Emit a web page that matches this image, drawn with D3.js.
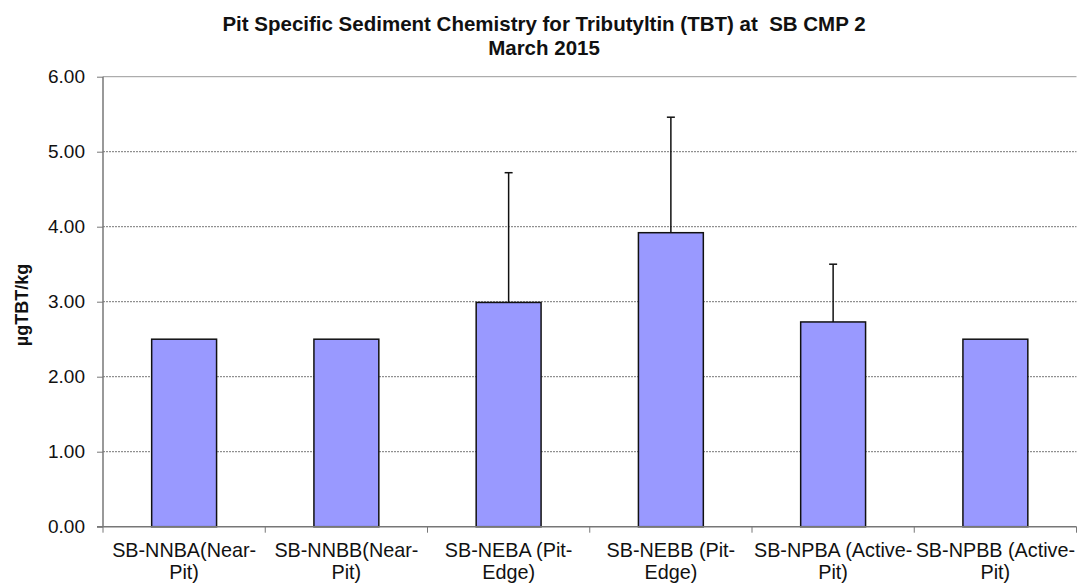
<!DOCTYPE html>
<html><head><meta charset="utf-8">
<script src="https://cdn.jsdelivr.net/npm/d3@7"></script>
<style>body{margin:0;background:#fff}svg{display:block}text{font-family:"Liberation Sans",Arial,sans-serif}</style>
</head><body><svg id="c" width="1077" height="583"></svg>
<script>
const categories = [["SB-NNBA(Near-","Pit)"],["SB-NNBB(Near-","Pit)"],["SB-NEBA (Pit-","Edge)"],["SB-NEBB (Pit-","Edge)"],["SB-NPBA (Active-","Pit)"],["SB-NPBB (Active-","Pit)"]];
const values = [2.50, 2.50, 2.99, 3.92, 2.73, 2.50];
const errorTops = [null, null, 4.72, 5.46, 3.50, null];
const yTicks = [0,1,2,3,4,5,6];
const titleLines = ["Pit Specific Sediment Chemistry for Tributyltin (TBT) at  SB CMP 2","March 2015"];
const yLabel = "µgTBT/kg";

const svg = d3.select("#c");
const L=103, R=1076.5, T=76.7, B=526.7;
const x = d3.scaleBand().domain(d3.range(categories.length)).range([L,R]).paddingInner(0.6).paddingOuter(0.3);
const y = d3.scaleLinear().domain([0,6]).range([B,T]);

// gridlines
svg.append("g").selectAll("line").data(yTicks.filter(d=>d>0)).join("line")
  .attr("x1",L).attr("x2",R).attr("y1",d=>y(d)).attr("y2",d=>y(d))
  .attr("stroke", d=>d===6?"#999":"#777").attr("stroke-width",1)
  .attr("stroke-dasharray", d=>d===6?null:"2,1");

// bars
svg.append("g").selectAll("rect").data(values).join("rect")
  .attr("x",(d,i)=>x(i)).attr("width",x.bandwidth())
  .attr("y",d=>y(d)).attr("height",d=>B-y(d))
  .attr("fill","#9999FF").attr("stroke","#111").attr("stroke-width",1.5);

// error bars
const eb = svg.append("g").attr("stroke","#111").attr("stroke-width",1.5);
errorTops.forEach((e,i)=>{
  if(e==null) return;
  const cx = x(i)+x.bandwidth()/2;
  eb.append("line").attr("x1",cx).attr("x2",cx).attr("y1",y(values[i])).attr("y2",y(e));
  eb.append("line").attr("x1",cx-4).attr("x2",cx+4).attr("y1",y(e)).attr("y2",y(e));
});

// y axis
const ya = svg.append("g").attr("transform",`translate(${L},0)`)
  .call(d3.axisLeft(y).tickValues(yTicks).tickFormat(d3.format(".2f")).tickSize(6).tickPadding(12));
ya.select(".domain").attr("stroke","#777").attr("stroke-width",1.5).attr("d",`M0,${T}V${B}`);
ya.selectAll(".tick line").attr("stroke","#777");
ya.selectAll("text").attr("font-size",19).attr("fill","#111").attr("font-family","Liberation Sans, Arial, sans-serif");

// x axis
const bounds = d3.range(categories.length+1).map(i=>L+(R-L)*i/categories.length);
svg.append("line").attr("x1",L-6).attr("x2",R).attr("y1",B).attr("y2",B).attr("stroke","#777").attr("stroke-width",1.5);
svg.append("g").selectAll("line").data(bounds).join("line")
  .attr("x1",d=>d).attr("x2",d=>d).attr("y1",B).attr("y2",B+6).attr("stroke","#777");
const lab = svg.append("g").selectAll("text").data(categories).join("text")
  .attr("text-anchor","middle").attr("font-size",19.8).attr("fill","#111")
  .attr("x",(d,i)=>x(i)+x.bandwidth()/2);
lab.selectAll("tspan").data(d=>d).join("tspan")
  .attr("x",function(){return this.parentNode.getAttribute("x");})
  .attr("y",(d,j)=>557+j*21.5).text(d=>d);

// title
svg.append("g").selectAll("text").data(titleLines).join("text")
  .attr("x",544).attr("y",(d,i)=>31+i*24).attr("text-anchor","middle")
  .attr("font-size",20.5).attr("font-weight","bold").attr("fill","#111")
  .style("white-space","pre")
  .text(d=>d);

// y label
svg.append("text").attr("transform","translate(28,305) rotate(-90)")
  .attr("text-anchor","middle").attr("font-size",18).attr("font-weight","bold").attr("fill","#111")
  .text(yLabel);
</script></body></html>
